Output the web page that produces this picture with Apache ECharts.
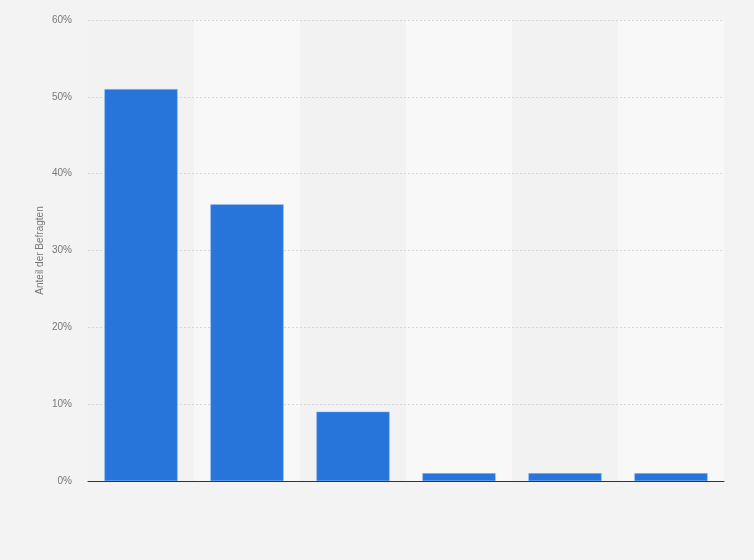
<!DOCTYPE html>
<html>
<head>
<meta charset="utf-8">
<script src="https://cdn.jsdelivr.net/npm/echarts@6/dist/echarts.min.js"></script>
<style>
html,body{margin:0;padding:0;background:#f3f3f3;}
#c{width:754px;height:560px;}
</style>
</head>
<body>
<div id="c"></div>
<script>
const categories = ['Kategorie 1','Kategorie 2','Kategorie 3','Kategorie 4','Kategorie 5','Kategorie 6'];
const values = [51, 36, 9, 1, 1, 1];
const yTicks = [0, 10, 20, 30, 40, 50, 60];
const yTitle = 'Anteil der Befragten';

const chart = echarts.init(document.getElementById('c'));
chart.setOption({
  backgroundColor: '#f3f3f3',
  animation: false,
  grid: {left: 88, right: 30, top: 20, bottom: 79},
  xAxis: [{
    type: 'category',
    z: 0,
    data: categories,
    axisLine: {show: false},
    axisTick: {show: false},
    axisLabel: {show: false},
    splitArea: {show: true, areaStyle: {color: ['#f2f2f2', '#f8f8f8']}}
  }, {
    type: 'category',
    position: 'bottom',
    z: 4,
    data: categories,
    axisLine: {show: true, lineStyle: {color: '#333', width: 1}},
    axisTick: {show: false},
    axisLabel: {show: false},
    splitLine: {show: false},
    splitArea: {show: false}
  }],
  yAxis: {
    type: 'value',
    z: 1,
    min: yTicks[0],
    max: yTicks[yTicks.length - 1],
    interval: 10,
    name: yTitle,
    nameLocation: 'middle',
    nameGap: 43,
    nameMoveOverlap: false,
    nameTextStyle: {color: '#777', fontSize: 10, fontFamily: 'Liberation Sans, Arial'},
    axisLine: {show: false},
    axisTick: {show: false},
    axisLabel: {formatter: '{value}%', color: '#777', fontSize: 10, fontFamily: 'Liberation Sans, Arial', margin: 16},
    splitLine: {lineStyle: {color: '#d8d8d8', type: [2, 2], width: 1}}
  },
  series: [{
    type: 'bar',
    z: 3,
    xAxisIndex: 0,
    data: values,
    barWidth: 73,
    itemStyle: {color: '#2775db', borderColor: '#5f9ae8', borderWidth: 0.5},
    emphasis: {disabled: true}
  }]
});
</script>
</body>
</html>
